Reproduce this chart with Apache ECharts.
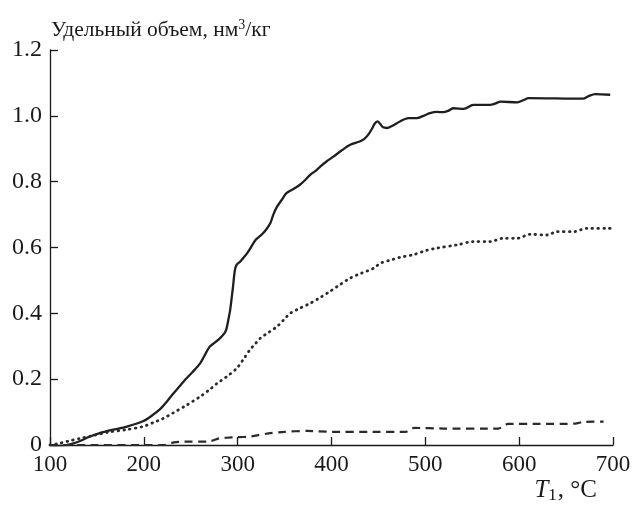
<!DOCTYPE html>
<html><head><meta charset="utf-8">
<script src="https://cdn.jsdelivr.net/npm/echarts@6/dist/echarts.min.js"></script>
<style>html,body{margin:0;padding:0;background:#fff}#c{width:636px;height:508px}</style>
</head><body><div id="c"></div>
<script>
const xTicks = [100, 200, 300, 400, 500, 600, 700];
const yTicks = [0, 0.2, 0.4, 0.6, 0.8, 1.0, 1.2];

const solidT = [100,110,118,125,132,142,153,165,182,199,208,217,224,231,238,244,252,260,264,270,276,281,286,288,290,292,295,297,299,303,306,310,313,319,324,327,331,335,338,342,347,352,359,366,372,377,384,388,395,402,410,420,430,435,439,443,446,449,452,455,459,465,473,482,491,498,505,512,519,525,530,541,551,569,575,580,598,605,610,668,674,681,697];
const solidV = [0,-0.003,0,0.005,0.012,0.025,0.036,0.045,0.056,0.072,0.088,0.108,0.13,0.155,0.178,0.198,0.222,0.248,0.268,0.298,0.312,0.324,0.34,0.352,0.38,0.41,0.48,0.53,0.548,0.558,0.568,0.582,0.595,0.623,0.635,0.643,0.657,0.675,0.70,0.724,0.745,0.765,0.777,0.79,0.805,0.82,0.835,0.846,0.862,0.876,0.893,0.912,0.922,0.93,0.942,0.96,0.976,0.983,0.975,0.965,0.963,0.97,0.983,0.993,0.993,1.0,1.008,1.012,1.011,1.016,1.023,1.021,1.033,1.033,1.038,1.043,1.041,1.048,1.054,1.052,1.06,1.066,1.064];

const dottedT = [100,110,120,132,145,164,180,199,210,220,231,245,260,270,278,288,299,306,313,318,324,333,342,349,356,366,377,388,398,409,420,432,445,452,463,473,487,500,512,534,551,569,583,598,612,630,640,658,672,697];
const dottedV = [0,0.005,0.012,0.02,0.028,0.04,0.046,0.056,0.068,0.08,0.097,0.12,0.147,0.168,0.187,0.207,0.233,0.26,0.289,0.305,0.324,0.342,0.36,0.38,0.40,0.415,0.43,0.448,0.466,0.487,0.507,0.522,0.537,0.552,0.562,0.57,0.578,0.59,0.598,0.608,0.618,0.618,0.628,0.628,0.64,0.638,0.648,0.648,0.658,0.658];

const dashedT = [100,150,200,222,232,240,268,280,288,300,312,322,335,350,374,400,440,479,488,520,578,588,620,660,668,690];
const dashedV = [0,0,0,0,0.008,0.01,0.01,0.02,0.022,0.024,0.025,0.03,0.036,0.04,0.043,0.04,0.04,0.04,0.052,0.05,0.05,0.064,0.064,0.065,0.07,0.071];

const zip = (t, v) => t.map((x, i) => [x, v[i]]);
const FONT = '"Liberation Serif", "DejaVu Serif", serif';
const INK = '#1a1a1a';

const chart = echarts.init(document.getElementById('c'), null, {renderer: 'canvas'});
chart.setOption({
  animation: false,
  backgroundColor: '#fff',
  grid: {left: 50, right: 23, top: 50, bottom: 63, containLabel: false},
  xAxis: {
    type: 'value', min: 100, max: 700, interval: 100,
    axisLine: {lineStyle: {color: INK, width: 1.3}},
    axisTick: {inside: true, length: 8, lineStyle: {color: INK, width: 1.3}},
    splitLine: {show: false},
    axisLabel: {color: INK, fontFamily: FONT, fontSize: 23, margin: 8,
      formatter: v => xTicks.includes(v) ? String(v) : ''},
    name: '{it|T}{sub|1}{n|, °C}',
    nameLocation: 'end',
    nameGap: 0,
    nameTextStyle: {
      align: 'right', verticalAlign: 'top', padding: [32, 16, 0, 0],
      rich: {
        it: {fontFamily: FONT, fontSize: 25, fontStyle: 'italic', color: INK, lineHeight: 26},
        sub: {fontFamily: FONT, fontSize: 17, color: INK, lineHeight: 17, padding: [11, 1, 0, 0]},
        n: {fontFamily: FONT, fontSize: 25, color: INK, lineHeight: 26}
      }
    }
  },
  yAxis: {
    type: 'value', min: 0, max: 1.2, interval: 0.2,
    axisLine: {show: true, lineStyle: {color: INK, width: 1.3}},
    axisTick: {show: true, inside: true, length: 8, lineStyle: {color: INK, width: 1.3}},
    splitLine: {show: false},
    axisLabel: {color: INK, fontFamily: FONT, fontSize: 24, margin: 8,
      formatter: v => {
        const t = yTicks.find(y => Math.abs(y - v) < 1e-6);
        return t === undefined ? '' : (t === 0 ? '0' : t.toFixed(1));
      }},
    name: '{n|Удельный объем, нм}{sup|3}{n|/кг}',
    nameLocation: 'end',
    nameGap: 9,
    nameTextStyle: {
      align: 'left', verticalAlign: 'bottom', padding: [0, 0, 0, 1],
      rich: {
        n: {fontFamily: FONT, fontSize: 21.5, color: INK, lineHeight: 22},
        sup: {fontFamily: FONT, fontSize: 14, color: INK, lineHeight: 14, padding: [0, 0, 10, 0]}
      }
    }
  },
  series: [
    {type: 'line', data: zip(solidT, solidV), showSymbol: false, smooth: 0.3,
      lineStyle: {color: '#1f1f1f', width: 2.3}},
    {type: 'line', data: zip(dottedT, dottedV), showSymbol: false, smooth: 0.3,
      lineStyle: {color: '#2a2a2a', width: 2.8, type: [0.6, 5.2], cap: 'round'}},
    {type: 'line', data: zip(dashedT, dashedV), showSymbol: false, smooth: 0.2,
      lineStyle: {color: '#2a2a2a', width: 2.2, type: [8, 5.5]}}
  ]
});
</script></body></html>
